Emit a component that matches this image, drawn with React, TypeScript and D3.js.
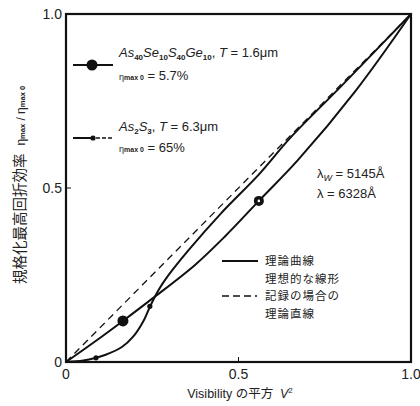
import React from 'react';
import * as d3 from 'd3';

// visibility squared (x) vs normalised max diffraction efficiency (y)
const idealLine: [number, number][] = [[0, 0], [1, 1]];

const as40Curve: [number, number][] = [
  [0, 0], [0.08, 0.056], [0.165, 0.118], [0.25, 0.182], [0.374, 0.279],
  [0.46, 0.36], [0.559, 0.463], [0.672, 0.58], [0.84, 0.78], [1, 1],
];
const as40Markers: [number, number][] = [[0.165, 0.118]];
const as40Open: [number, number][] = [[0.559, 0.463]];

const as2s3Curve: [number, number][] = [
  [0, 0], [0.05, 0.004], [0.087, 0.012], [0.113, 0.02], [0.162, 0.043],
  [0.194, 0.072], [0.223, 0.115], [0.243, 0.158], [0.267, 0.205],
  [0.296, 0.248], [0.354, 0.32], [0.45, 0.428], [0.56, 0.54],
  [0.65, 0.644], [0.8, 0.795], [1, 1],
];
const as2s3Markers: [number, number][] = [[0.087, 0.012], [0.243, 0.16]];

const xTicks = [0, 0.5, 1];
const yTicks = [0, 0.5, 1];
const tickLabels = ['0', '0.5', '1.0'];

const W = 420;
const H = 406;
const margin = { top: 14, right: 9, bottom: 44, left: 66 };

const latin = '"Liberation Sans", "DejaVu Sans", sans-serif';
const cjk = '"Noto Sans CJK JP", sans-serif';

export default function App() {
  const x = d3.scaleLinear().domain([0, 1]).range([margin.left, W - margin.right]);
  const y = d3.scaleLinear().domain([0, 1]).range([H - margin.bottom, margin.top]);
  const line = d3.line<[number, number]>()
    .x(d => x(d[0]))
    .y(d => y(d[1]))
    .curve(d3.curveCatmullRom.alpha(0.5));

  const sub = (t: string) => (
    <tspan fontSize={8} dy={3} fontStyle="normal" fontWeight="bold">{t}</tspan>
  );

  return (
    <svg width={W} height={H} style={{ position: 'absolute', left: 0, top: 0, background: '#fff' }}>
      {/* curves */}
      <path d={line(idealLine) || ''} fill="none" stroke="#111" strokeWidth={1.3} strokeDasharray="7,5" />
      <path d={line(as40Curve) || ''} fill="none" stroke="#111" strokeWidth={2} />
      <path d={line(as2s3Curve) || ''} fill="none" stroke="#111" strokeWidth={2} />
      {as40Markers.map((d, i) => (
        <circle key={'a' + i} cx={x(d[0])} cy={y(d[1])} r={5.5} fill="#111" />
      ))}
      {as40Open.map((d, i) => (
        <g key={'o' + i}>
          <circle cx={x(d[0])} cy={y(d[1])} r={5} fill="#111" />
          <circle cx={x(d[0])} cy={y(d[1])} r={1.3} fill="#fff" />
        </g>
      ))}
      {as2s3Markers.map((d, i) => (
        <circle key={'s' + i} cx={x(d[0])} cy={y(d[1])} r={2.6} fill="#111" />
      ))}

      {/* frame */}
      <rect x={x(0)} y={y(1)} width={x(1) - x(0)} height={y(0) - y(1)} fill="none" stroke="#111" strokeWidth={2.2} />
      <line x1={x(0.5)} x2={x(0.5)} y1={y(0)} y2={y(0) - 5} stroke="#111" strokeWidth={1} />
      <line x1={x(0)} x2={x(0) + 5} y1={y(0.5)} y2={y(0.5)} stroke="#111" strokeWidth={1} />

      {/* tick labels */}
      {xTicks.map((t, i) => (
        <text key={'x' + i} x={x(t)} y={y(0) + 17} textAnchor="middle" fontFamily={latin} fontSize={14} fill="#222">
          {tickLabels[i]}
        </text>
      ))}
      {yTicks.map((t, i) => (
        <text key={'y' + i} x={x(0) - 4} y={y(t) + 5} textAnchor="end" fontFamily={latin} fontSize={14} fill="#222">
          {tickLabels[i]}
        </text>
      ))}

      {/* axis titles */}
      <text x={240} y={398} textAnchor="middle" fontSize={12.5} fill="#222">
        <tspan fontFamily={latin}>Visibility </tspan>
        <tspan fontFamily={cjk}>の平方 </tspan>
        <tspan fontFamily={latin} fontStyle="italic" dx={4}>V</tspan>
        <tspan fontFamily={latin} fontSize={8} dy={-5}>2</tspan>
      </text>
      <text transform="translate(25,185) rotate(-90)" textAnchor="middle" fontSize={14.5} fill="#222">
        <tspan fontFamily={cjk}>規格化最高回折効率</tspan>
        <tspan fontFamily={latin} fontSize={12} dx={8}>η</tspan>
        <tspan fontFamily={latin} fontSize={7.5} fontWeight="bold">max</tspan>
        <tspan fontFamily={latin} fontSize={12}> / η</tspan>
        <tspan fontFamily={latin} fontSize={7.5} fontWeight="bold">max 0</tspan>
      </text>

      {/* legend: samples */}
      <line x1={73} x2={113} y1={65} y2={65} stroke="#111" strokeWidth={2} />
      <circle cx={92} cy={65} r={5.5} fill="#111" />
      <text x={119} y={57} fontFamily={latin} fontSize={13} fill="#222" fontStyle="italic">
        As{sub('40')}<tspan dy={-3}>Se</tspan>{sub('10')}<tspan dy={-3}>S</tspan>{sub('40')}
        <tspan dy={-3}>Ge</tspan>{sub('10')}<tspan dy={-3} fontStyle="normal">, </tspan>
        <tspan>T</tspan><tspan fontStyle="normal"> = 1.6μm</tspan>
      </text>
      <text x={119} y={80} fontFamily={latin} fontSize={13} fill="#222">
        <tspan fontSize={9}>η</tspan><tspan fontSize={7} fontWeight="bold">max 0</tspan> = 5.7%
      </text>

      <line x1={73} x2={93} y1={138} y2={138} stroke="#111" strokeWidth={2} />
      <line x1={96} x2={113} y1={138} y2={138} stroke="#111" strokeWidth={1.5} strokeDasharray="4,2" />
      <circle cx={93} cy={138} r={2.6} fill="#111" />
      <text x={119} y={131} fontFamily={latin} fontSize={13} fill="#222" fontStyle="italic">
        As{sub('2')}<tspan dy={-3}>S</tspan>{sub('3')}<tspan dy={-3} fontStyle="normal">, </tspan>
        <tspan>T</tspan><tspan fontStyle="normal"> = 6.3μm</tspan>
      </text>
      <text x={119} y={152} fontFamily={latin} fontSize={13} fill="#222">
        <tspan fontSize={9}>η</tspan><tspan fontSize={7} fontWeight="bold">max 0</tspan> = 65%
      </text>

      {/* wavelengths */}
      <text x={317} y={178} fontFamily={latin} fontSize={13} fill="#222">
        λ<tspan fontSize={9} fontStyle="italic" dy={3}>W</tspan><tspan dy={-3}> = 5145Å</tspan>
      </text>
      <text x={317} y={198} fontFamily={latin} fontSize={13} fill="#222">λ = 6328Å</text>

      {/* legend: line styles */}
      <line x1={222} x2={258} y1={261} y2={261} stroke="#111" strokeWidth={2} />
      <line x1={222} x2={257} y1={296} y2={296} stroke="#111" strokeWidth={1.5} strokeDasharray="7,4" />
      <g fontFamily={cjk} fontSize={11.5} fill="#222" letterSpacing={1}>
        <text x={265} y={265}>理論曲線</text>
        <text x={265} y={282.5}>理想的な線形</text>
        <text x={265} y={300}>記録の場合の</text>
        <text x={265} y={317.5}>理論直線</text>
      </g>
    </svg>
  );
}
